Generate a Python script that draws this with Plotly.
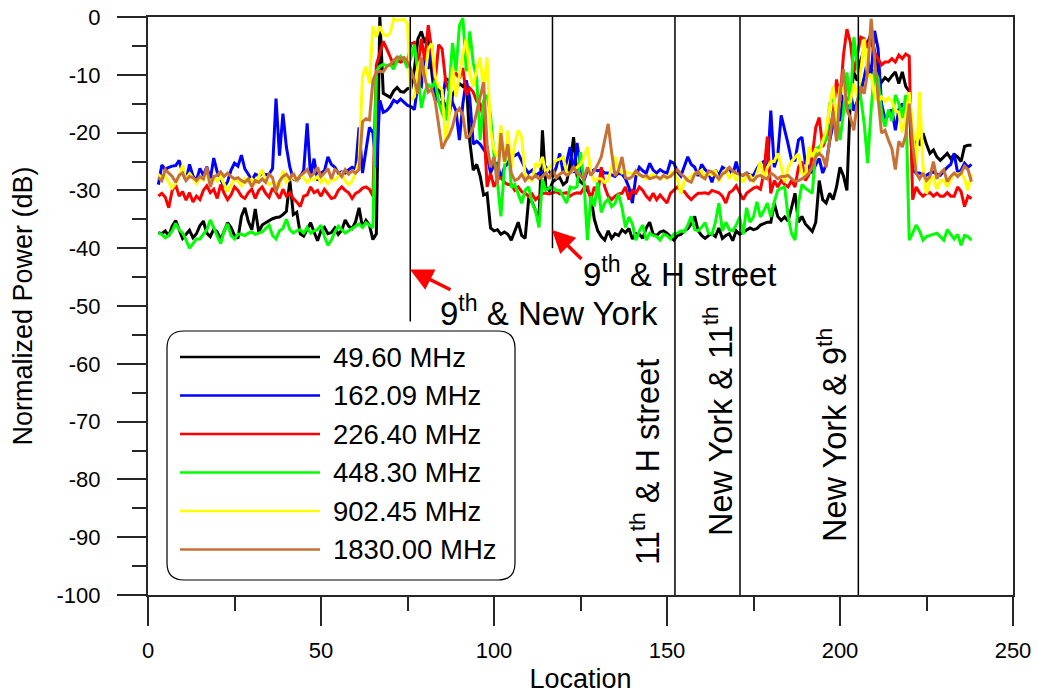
import plotly.graph_objects as go

# ---------------------------------------------------------------- data
location = list(range(3, 239))

freq_labels = ["49.60 MHz", "162.09 MHz", "226.40 MHz",
               "448.30 MHz", "902.45 MHz", "1830.00 MHz"]
line_colors = ["#000000", "#0000FF", "#FF0000", "#00FF00", "#FFFF00", "#C87137"]

x_tick_values = [0, 50, 100, 150, 200, 250]
x_tick_labels = ["0", "50", "100", "150", "200", "250"]
y_tick_values = [0, -10, -20, -30, -40, -50, -60, -70, -80, -90, -100]
y_tick_labels = ["0", "-10", "-20", "-30", "-40", "-50",
                 "-60", "-70", "-80", "-90", "-100"]

power_49_60 = [
    -37.3, -37.5, -37.0, -37.9, -36.2, -35.2, -36.8, -38.3, -37.6, -36.9,
    -38.2, -37.5, -36.1, -35.3, -37.4, -38.0, -36.7, -37.2, -38.5, -37.0,
    -35.6, -36.4, -37.8, -38.3, -34.5, -33.0, -35.4, -36.8, -33.2, -37.2,
    -36.0, -35.6, -35.2, -34.9, -34.7, -34.6, -34.2, -33.6, -28.3, -34.2,
    -33.8, -37.5, -37.9, -36.8, -35.6, -37.2, -38.7, -37.0, -36.4, -37.5,
    -37.3, -36.5, -37.6, -36.9, -35.1, -36.2, -36.6, -35.4, -33.0, -36.4,
    -35.2, -36.0, -38.5, -37.5, 0.0, -13.2, -13.5, -13.9, -12.8, -12.2,
    -12.9, -13.0, -12.4, -12.3, -9.0, -3.8, -2.5, -4.5, -3.0, -9.5,
    -14.4, -12.0, -14.0, -15.5, -17.0, -13.5, -12.5, -11.5, -12.0, -11.0,
    -21.5, -26.5, -25.5, -27.5, -30.8, -30.5, -36.5, -37.0, -36.8, -37.6,
    -37.2, -37.6, -38.6, -37.0, -35.5, -37.8, -38.3, -31.6, -32.0, -33.5,
    -35.0, -19.6, -29.5, -30.0, -28.5, -28.0, -27.8, -29.0, -28.5, -25.5,
    -20.8, -27.5, -28.5, -29.0, -30.0, -31.0, -35.0, -37.0, -38.0, -38.6,
    -37.0, -38.3, -37.5, -37.8, -36.8, -37.3, -36.6, -38.4, -37.5, -37.6,
    -38.3, -36.5, -35.5, -37.6, -37.8, -37.2, -37.0, -37.4, -38.0, -38.6,
    -37.8, -37.6, -37.0, -36.6, -35.8, -34.5, -37.0, -37.8, -38.3, -37.8,
    -37.5, -38.0, -36.5, -38.3, -37.8, -37.5, -38.7, -37.0, -37.6, -37.2,
    -36.8, -36.5, -36.8, -36.6, -36.0, -35.8, -35.5, -35.5, -32.2, -34.5,
    -35.2, -34.6, -35.3, -33.0, -30.5, -35.5, -34.5, -35.8, -36.5, -37.1,
    -35.5, -28.3, -31.6, -32.2, -30.5, -31.6, -29.4, -26.0, -27.5, -30.0,
    -14.0, -9.6, -11.0, -7.5, -5.5, -4.5, -2.8, -6.0, -10.2, -11.3,
    -10.5, -11.0, -10.2, -9.5, -11.5, -9.5, -12.0, -12.8, -25.3, -21.5,
    -22.0, -20.1, -22.0, -23.6, -23.0, -24.2, -24.8, -24.2, -23.6, -24.5,
    -23.8, -24.2, -25.0, -22.4, -22.2, -22.2,
]

power_162_09 = [
    -29.0, -25.6, -26.4, -26.0, -25.8, -25.7, -24.8, -27.0, -28.3, -25.5,
    -27.5, -28.3, -26.2, -27.4, -25.9, -28.1, -24.4, -26.8, -28.0, -29.4,
    -28.5, -26.5, -25.3, -25.8, -23.9, -26.3, -27.2, -28.3, -27.2, -27.5,
    -27.0, -27.3, -27.2, -26.2, -14.1, -24.0, -16.7, -22.5, -26.0, -28.0,
    -28.3, -27.6, -26.5, -18.4, -27.6, -24.5, -28.3, -27.0, -26.6, -24.2,
    -25.5, -26.0, -27.0, -26.8, -27.0, -26.4, -26.0, -26.3, -19.1, -27.0,
    -23.0, -19.1, -20.0, -26.0, -14.4, -16.5, -16.2, -15.5, -14.4, -14.8,
    -14.2, -14.8, -15.3, -15.5, -16.0, -11.6, -12.0, -5.8, -9.0, -4.8,
    -13.8, -14.6, -15.0, -10.6, -11.0, -14.8, -16.2, -21.3, -15.0, -11.0,
    -14.0, -22.0, -21.5, -22.0, -23.0, -23.8, -27.0, -25.5, -25.3, -28.0,
    -26.0, -25.3, -24.2, -24.0, -23.6, -25.0, -26.2, -27.0, -26.5, -27.5,
    -27.0, -27.0, -26.0, -26.8, -27.5, -26.0, -23.6, -27.0, -25.0, -22.5,
    -27.0, -21.8, -26.0, -28.3, -26.5, -26.8, -26.4, -26.6, -26.5, -27.0,
    -27.0, -27.3, -27.6, -27.0, -27.2, -28.0, -29.5, -32.2, -27.6, -26.0,
    -26.6, -27.0, -25.3, -26.5, -27.0, -26.4, -26.8, -27.0, -25.0, -25.3,
    -26.8, -27.5, -26.0, -24.2, -25.5, -26.0, -27.5, -25.5, -26.4, -27.0,
    -28.6, -26.5, -27.4, -26.0, -26.4, -26.2, -27.4, -25.0, -27.6, -27.4,
    -27.0, -27.4, -27.4, -26.2, -25.3, -25.0, -26.6, -16.2, -26.0, -24.0,
    -17.0, -19.4, -22.0, -24.8, -24.8, -21.3, -20.8, -25.3, -26.0, -27.0,
    -25.5, -24.5, -27.0, -25.5, -21.5, -18.5, -16.2, -18.0, -13.5, -15.5,
    -13.0, -16.2, -14.6, -13.0, -10.4, -7.5, -10.0, -2.4, -5.5, -15.0,
    -17.6, -17.0, -16.0, -19.6, -16.0, -15.0, -16.2, -15.0, -26.5, -27.0,
    -27.0, -27.4, -27.4, -27.0, -26.8, -27.2, -27.4, -26.6, -26.0, -25.5,
    -23.6, -27.0, -26.5, -25.3, -26.0, -25.5,
]

power_226_40 = [
    -31.0, -30.5, -31.2, -33.0, -30.0, -29.0, -31.0, -30.2, -31.7, -30.4,
    -32.0, -31.0, -31.6, -30.0, -29.2, -30.4, -29.8, -31.4, -29.0, -30.5,
    -31.6, -30.8, -29.4, -30.0, -31.0, -31.4, -30.4, -29.8, -31.4, -30.0,
    -29.4, -30.5, -31.2, -29.6, -30.4, -31.4, -29.8, -31.0, -30.4, -31.4,
    -32.0, -32.8, -31.0, -30.8, -29.4, -30.4, -30.0, -31.0, -29.8, -30.6,
    -31.4, -31.2, -30.0, -29.4, -30.0, -30.4, -31.4, -30.5, -30.2, -29.6,
    -29.4, -29.8, -31.0, -8.3, -6.0, -4.2, -5.5, -7.0, -8.3, -7.5,
    -7.8, -7.5, -7.6, -4.6, -4.4, -8.8, -3.8, -7.5, -1.4, -5.8,
    -11.0, -4.8, -5.5, -11.0, -12.8, -10.0, -9.8, -10.6, -8.8, -13.5,
    -12.3, -13.0, -14.6, -15.0, -17.8, -29.4, -27.0, -29.4, -28.0, -27.8,
    -28.6, -29.0, -29.0, -30.0, -29.4, -30.2, -30.5, -31.0, -30.6, -31.6,
    -31.0, -30.5, -30.5, -30.6, -30.4, -30.2, -30.6, -30.5, -30.4, -31.0,
    -30.6, -30.4, -30.5, -29.6, -29.4, -31.6, -29.4, -30.5, -26.0, -29.4,
    -31.0, -31.6, -31.0, -30.6, -30.5, -29.4, -31.6, -30.0, -30.5, -29.4,
    -30.0, -31.0, -31.6, -30.5, -31.6, -30.8, -31.6, -32.2, -30.5, -30.0,
    -29.4, -30.0, -30.2, -31.0, -31.6, -31.0, -30.5, -30.5, -30.4, -30.6,
    -30.0, -30.2, -30.4, -31.0, -32.2, -30.4, -30.0, -29.2, -30.4, -31.6,
    -30.5, -30.0, -29.6, -29.4, -29.8, -27.0, -20.7, -30.5, -28.3, -29.4,
    -28.3, -29.0, -29.4, -28.3, -29.4, -26.0, -25.0, -28.3, -27.3, -24.0,
    -19.1, -17.4, -22.5, -21.0, -19.4, -17.0, -10.8, -14.6, -6.6, -2.1,
    -4.4, -9.6, -6.6, -3.5, -3.8, -5.0, -4.2, -6.2, -7.2, -8.3,
    -7.8, -7.8, -7.2, -7.8, -6.6, -7.2, -6.4, -6.8, -31.6, -29.4,
    -30.4, -31.0, -30.5, -30.4, -31.0, -30.5, -31.0, -31.0, -30.4, -31.0,
    -31.0, -29.4, -30.2, -32.8, -31.0, -31.4,
]

power_448_30 = [
    -37.4, -37.6, -38.2, -37.8, -37.0, -35.7, -36.8, -37.4, -38.6, -40.0,
    -39.2, -38.4, -38.4, -37.6, -36.8, -35.1, -36.4, -37.8, -39.2, -37.0,
    -35.8, -37.8, -38.4, -37.6, -37.6, -37.8, -37.4, -37.2, -37.6, -37.4,
    -37.2, -36.6, -36.0, -37.8, -38.4, -37.0, -36.6, -35.0, -36.8, -37.4,
    -37.0, -36.8, -37.4, -36.4, -37.4, -37.0, -36.8, -36.0, -38.0, -39.5,
    -38.6, -37.2, -36.2, -36.8, -37.4, -37.0, -36.6, -36.2, -35.8, -36.4,
    -35.6, -36.0, -36.5, -9.4, -8.5, -8.2, -8.4, -8.2, -9.0, -7.5,
    -6.8, -7.5, -8.8, -7.0, -4.8, -9.5, -15.7, -13.0, -11.6, -12.4,
    -11.0, -14.6, -16.6, -17.9, -13.0, -4.5, -9.4, -1.5, -0.2, -9.4,
    -2.5, -8.0, -10.6, -21.3, -14.4, -13.5, -17.0, -23.9, -28.6, -34.5,
    -26.0, -21.3, -29.5, -29.0, -30.5, -32.2, -30.0, -29.4, -32.2, -33.5,
    -36.4, -28.1, -30.0, -29.6, -29.4, -30.0, -30.0, -31.0, -32.2, -29.4,
    -29.6, -29.4, -23.4, -28.3, -38.6, -31.0, -32.8, -28.6, -33.8, -32.2,
    -31.5, -32.8, -32.2, -30.6, -33.0, -36.4, -34.6, -35.8, -38.6, -37.0,
    -36.0, -38.6, -37.4, -37.8, -38.0, -38.6, -37.6, -37.8, -38.4, -37.5,
    -37.4, -37.0, -37.2, -36.0, -34.5, -36.8, -37.0, -36.4, -35.6, -37.4,
    -37.6, -35.5, -32.2, -37.0, -35.5, -36.8, -37.0, -36.0, -34.6, -37.6,
    -33.0, -35.5, -34.6, -32.0, -34.6, -33.5, -32.2, -34.6, -32.0, -30.0,
    -29.6, -29.4, -34.5, -37.5, -38.6, -32.2, -29.0, -29.6, -30.0, -30.5,
    -22.8, -22.5, -21.8, -21.3, -15.0, -13.8, -16.6, -21.3, -16.6, -9.6,
    -16.0, -3.5, -8.2, -14.0, -18.5, -25.3, -16.0, -9.0, -10.6, -16.5,
    -19.0, -16.0, -18.0, -13.5, -15.0, -17.5, -13.5, -38.6, -37.4, -36.0,
    -37.0, -38.6, -38.0, -37.8, -37.6, -37.4, -38.0, -38.6, -36.8, -37.6,
    -38.4, -37.6, -39.5, -37.8, -38.0, -38.6,
]

power_902_45 = [
    -27.2, -28.0, -27.5, -28.6, -29.6, -28.8, -27.6, -25.6, -28.3, -27.0,
    -28.0, -28.8, -27.8, -28.2, -27.0, -28.6, -27.8, -28.4, -27.6, -29.0,
    -30.2, -29.0, -28.0, -28.4, -29.2, -28.0, -28.6, -28.0, -28.8, -27.6,
    -26.4, -28.4, -29.0, -28.6, -28.8, -29.2, -26.6, -28.6, -28.0, -27.8,
    -28.3, -27.5, -27.8, -28.6, -28.0, -28.2, -27.6, -28.6, -28.0, -28.8,
    -28.0, -28.2, -27.6, -27.0, -28.4, -29.0, -28.4, -27.0, -24.8, -10.3,
    -8.6, -11.5, -1.6, -3.5, -1.6, -3.0, -3.3, -2.8, -0.3, -0.6,
    -0.5, -0.4, -1.2, -14.4, -13.8, -8.6, -7.2, -11.0, -5.5, -4.6,
    -10.3, -12.0, -12.6, -21.3, -17.4, -8.6, -13.8, -10.0, -6.4, -3.8,
    -10.0, -12.0, -9.0, -7.0, -13.0, -7.0, -19.6, -23.0, -24.2, -18.7,
    -25.3, -19.6, -26.0, -22.0, -19.6, -20.8, -27.6, -28.0, -28.3, -25.3,
    -26.0, -24.2, -27.0, -26.0, -25.5, -24.8, -24.6, -24.2, -27.0, -27.0,
    -26.5, -26.0, -25.5, -24.2, -22.5, -27.0, -28.3, -28.0, -28.0, -28.6,
    -28.3, -26.0, -24.2, -26.4, -27.0, -26.8, -27.0, -27.2, -27.0, -27.4,
    -27.6, -28.0, -27.6, -27.2, -27.6, -28.0, -27.6, -28.0, -27.0, -26.8,
    -28.0, -30.6, -28.4, -28.0, -27.6, -27.0, -27.0, -26.5, -28.0, -27.0,
    -27.4, -26.5, -28.5, -27.0, -26.4, -28.0, -27.0, -28.3, -27.4, -28.6,
    -27.6, -27.4, -28.6, -27.0, -25.0, -28.0, -26.0, -25.0, -25.0, -23.6,
    -25.8, -28.6, -26.0, -25.0, -24.2, -23.6, -27.0, -27.6, -22.5, -24.2,
    -22.8, -23.6, -21.5, -19.6, -15.5, -12.0, -18.0, -12.0, -12.6, -15.0,
    -14.6, -11.5, -13.8, -9.5, -3.8, -10.4, -9.9, -13.8, -14.6, -13.8,
    -14.6, -14.0, -14.6, -16.2, -16.5, -20.0, -17.0, -13.0, -19.0, -26.5,
    -13.0, -26.0, -30.6, -28.3, -27.8, -29.8, -28.3, -28.3, -29.4, -28.3,
    -27.0, -27.2, -27.0, -28.0, -30.0, -27.2,
]

power_1830_00 = [
    -27.8, -28.3, -26.4, -27.0, -27.6, -28.6, -27.4, -27.0, -28.3, -27.6,
    -27.8, -28.3, -27.6, -28.0, -26.0, -29.4, -27.6, -27.4, -26.8, -27.6,
    -27.0, -27.6, -28.0, -27.8, -28.3, -28.6, -28.0, -29.4, -28.3, -28.6,
    -28.0, -28.6, -27.2, -27.8, -30.3, -28.4, -27.6, -27.2, -28.0, -27.0,
    -28.3, -27.4, -27.0, -26.4, -27.6, -27.0, -26.0, -27.6, -27.0, -26.2,
    -28.0, -26.4, -26.8, -27.6, -26.4, -27.2, -26.6, -27.0, -26.4, -18.1,
    -17.6, -17.8, -11.0, -9.5, -9.4, -9.5, -8.6, -8.2, -7.5, -6.9,
    -7.2, -7.0, -7.8, -9.0, -11.0, -13.3, -7.0, -10.5, -13.0, -12.5,
    -14.5, -19.0, -22.8, -21.5, -20.5, -19.0, -16.6, -15.8, -17.0, -21.0,
    -20.5, -19.0, -16.6, -14.0, -11.3, -22.0, -26.0, -24.2, -29.0, -20.1,
    -25.0, -22.0, -27.0, -28.3, -28.0, -27.2, -28.3, -27.6, -28.0, -27.4,
    -28.0, -27.6, -27.0, -28.0, -26.4, -27.8, -27.2, -26.8, -27.4, -27.0,
    -26.0, -27.0, -27.4, -28.0, -26.0, -27.4, -26.6, -25.5, -24.2, -21.3,
    -18.5, -23.5, -27.5, -26.5, -24.2, -27.8, -28.0, -27.6, -26.6, -27.2,
    -27.6, -27.4, -28.0, -27.8, -27.6, -28.0, -27.4, -27.8, -27.6, -27.0,
    -26.4, -27.2, -27.6, -28.3, -28.6, -27.2, -26.8, -27.6, -28.0, -26.6,
    -26.8, -27.4, -28.0, -27.2, -26.8, -26.0, -26.6, -27.0, -27.2, -27.4,
    -27.0, -28.2, -28.3, -27.6, -27.4, -27.8, -28.0, -27.0, -27.4, -28.0,
    -27.6, -27.6, -27.4, -28.0, -28.4, -28.3, -28.0, -27.6, -27.0, -26.0,
    -24.2, -23.6, -24.2, -26.0, -21.3, -16.2, -21.5, -13.3, -9.0, -16.2,
    -17.4, -19.6, -14.6, -12.0, -13.3, -9.4, -0.3, -7.8, -14.0, -20.1,
    -19.6, -21.3, -22.8, -26.4, -21.5, -22.5, -20.5, -15.0, -22.0, -27.0,
    -28.0, -27.0, -28.3, -27.6, -25.0, -28.0, -27.0, -26.4, -28.5, -27.6,
    -27.0, -27.6, -27.0, -25.8, -26.4, -28.5,
]

series_values = [power_49_60, power_162_09, power_226_40,
                 power_448_30, power_902_45, power_1830_00]
for vals in series_values:
    assert len(vals) == len(location), len(vals)

# street crossings: (location, lower end of the marker line in dB)
crossing_locations = [75.8, 116.9, 152.3, 171.1, 205.3]
crossing_bottoms = [-52.7, -40.0, -100.0, -100.0, -100.0]

# ---------------------------------------------------------------- geometry
W, H = 1037, 694
ML, MR, MT, MB = 148, 24, 17, 99
PW, PH = W - ML - MR, H - MT - MB
X_RANGE = (0, 250)
Y_RANGE = (-100, 0)


def px_to_paper_x(px):
    return (px - ML) / PW


def px_to_paper_y(py):
    return (H - MB - py) / PH


def px_to_loc(px):
    return X_RANGE[0] + (px - ML) / PW * (X_RANGE[1] - X_RANGE[0])


def px_to_db(py):
    return Y_RANGE[1] - (py - MT) / PH * (Y_RANGE[1] - Y_RANGE[0])


FONT = "Liberation Sans, Arial, Helvetica, sans-serif"
AXIS_COLOR = "#262626"

fig = go.Figure()

for name, color, vals in zip(freq_labels, line_colors, series_values):
    fig.add_trace(go.Scatter(
        x=location, y=vals, mode="lines", name=name,
        line=dict(color=color, width=3),
        showlegend=False, hoverinfo="x+y+name",
    ))

shapes = []
for loc, bottom in zip(crossing_locations, crossing_bottoms):
    shapes.append(dict(type="line", xref="x", yref="y",
                       x0=loc, x1=loc, y0=0, y1=bottom,
                       line=dict(color="black", width=1.5), layer="above"))

# rounded legend frame
bx0, bx1, by0, by1, rad = 167, 515, 331, 580, 17
pts = [
    ("M", bx0 + rad, by0), ("L", bx1 - rad, by0), ("Q", bx1, by0, bx1, by0 + rad),
    ("L", bx1, by1 - rad), ("Q", bx1, by1, bx1 - rad, by1),
    ("L", bx0 + rad, by1), ("Q", bx0, by1, bx0, by1 - rad),
    ("L", bx0, by0 + rad), ("Q", bx0, by0, bx0 + rad, by0),
]
path = ""
for p in pts:
    cmd, coords = p[0], p[1:]
    conv = []
    for i in range(0, len(coords), 2):
        conv.append(f"{px_to_paper_x(coords[i]):.5f},{px_to_paper_y(coords[i + 1]):.5f}")
    path += cmd + " " + " ".join(conv) + " "
path += "Z"
shapes.append(dict(type="path", xref="paper", yref="paper", path=path,
                   line=dict(color="black", width=1.2),
                   fillcolor="white", layer="above"))

annotations = []
legend_rows = [357, 395.5, 434, 472.5, 511, 549.5]
for name, color, row in zip(freq_labels, line_colors, legend_rows):
    shapes.append(dict(type="line", xref="paper", yref="paper",
                       x0=px_to_paper_x(180), x1=px_to_paper_x(320),
                       y0=px_to_paper_y(row), y1=px_to_paper_y(row),
                       line=dict(color=color, width=2.5), layer="above"))
    annotations.append(dict(xref="paper", yref="paper",
                            x=px_to_paper_x(331), y=px_to_paper_y(row),
                            text=name, showarrow=False,
                            xanchor="left", yanchor="middle",
                            font=dict(family=FONT, size=27.5, color="black")))

# crossing labels
label_font = dict(family=FONT, size=33, color="black")
rot_font = dict(family=FONT, size=32.5, color="black")
annotations += [
    dict(x=px_to_loc(438), y=px_to_db(311), xref="x", yref="y",
         text="9<sup>th</sup> & New York", showarrow=False,
         xanchor="left", yanchor="middle", font=label_font),
    dict(x=px_to_loc(581), y=px_to_db(272), xref="x", yref="y",
         text="9<sup>th</sup> & H street", showarrow=False,
         xanchor="left", yanchor="middle", font=label_font),
    dict(x=px_to_loc(645), y=px_to_db(462), xref="x", yref="y",
         text="11<sup>th</sup> & H street", showarrow=False, textangle=-90,
         xanchor="center", yanchor="middle", font=rot_font),
    dict(x=px_to_loc(718), y=px_to_db(421), xref="x", yref="y",
         text="New York & 11<sup>th</sup>", showarrow=False, textangle=-90,
         xanchor="center", yanchor="middle", font=rot_font),
    dict(x=px_to_loc(832), y=px_to_db(435), xref="x", yref="y",
         text="New York & 9<sup>th</sup>", showarrow=False, textangle=-90,
         xanchor="center", yanchor="middle", font=rot_font),
]

# red pointer arrows
for head, tail in [((410, 269.5), (452, 290.5)), ((552, 230), (583, 260.5))]:
    annotations.append(dict(
        x=px_to_loc(head[0]), y=px_to_db(head[1]), xref="x", yref="y",
        ax=px_to_loc(tail[0]), ay=px_to_db(tail[1]), axref="x", ayref="y",
        text="", showarrow=True, arrowhead=2, arrowsize=1.3,
        arrowwidth=3.5, arrowcolor="#FF0000", standoff=0,
    ))

tick_font = dict(family=FONT, size=22, color="black")
title_font = dict(family=FONT, size=27, color="black")

axis_common = dict(
    showgrid=False, zeroline=False, showline=True, mirror=True,
    linecolor=AXIS_COLOR, linewidth=2,
    ticks="outside", ticklen=29, tickwidth=1.5, tickcolor=AXIS_COLOR,
    tickfont=tick_font, automargin=False, tickmode="array",
)

fig.update_layout(
    width=W, height=H,
    margin=dict(l=ML, r=MR, t=MT, b=MB, pad=0, autoexpand=False),
    paper_bgcolor="white", plot_bgcolor="white",
    showlegend=False,
    xaxis=dict(
        range=list(X_RANGE),
        tickvals=x_tick_values, ticktext=x_tick_labels,
        minor=dict(tickvals=[25, 75, 125, 175, 225], ticks="outside",
                   ticklen=14, tickwidth=1.5, tickcolor=AXIS_COLOR,
                   showgrid=False),
        ticklabelstandoff=6,
        title=dict(text="Location", font=title_font, standoff=11),
        **axis_common,
    ),
    yaxis=dict(
        range=list(Y_RANGE),
        tickvals=y_tick_values, ticktext=y_tick_labels,
        minor=dict(tickvals=[-5, -15, -25, -35, -45, -55, -65, -75, -85, -95],
                   ticks="outside", ticklen=14, tickwidth=1.5,
                   tickcolor=AXIS_COLOR, showgrid=False),
        ticklabelstandoff=12,
        title=dict(text="Normalized Power (dB)", font=title_font, standoff=16),
        **axis_common,
    ),
    shapes=shapes,
    annotations=annotations,
)

fig.write_html("out.html")
